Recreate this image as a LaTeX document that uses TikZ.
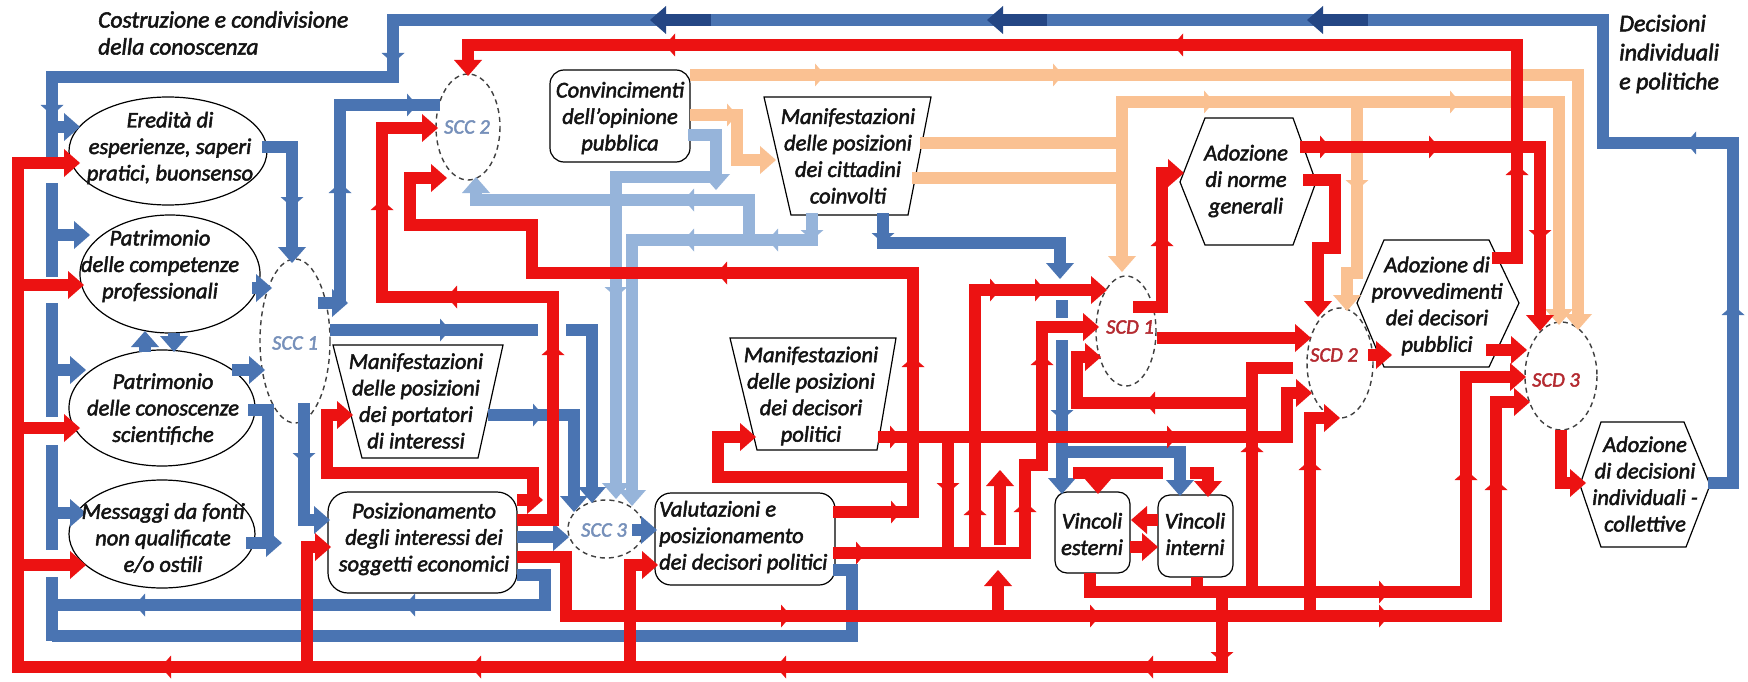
\documentclass[tikz,border=0pt]{standalone}
\usepackage{fontspec}
\setmainfont{Carlito}[ItalicFeatures={FakeBold=2.2}]
\usetikzlibrary{arrows.meta,decorations.markings}
\definecolor{myred}{RGB}{236,18,18}
\definecolor{myblue}{RGB}{74,116,178}
\definecolor{mydblue}{RGB}{36,70,132}
\definecolor{mylb}{RGB}{150,180,218}
\definecolor{mypeach}{RGB}{250,193,146}
\definecolor{scccol}{RGB}{118,144,186}
\definecolor{scdcol}{RGB}{180,42,48}
\definecolor{txtcol}{RGB}{20,20,20}
\tikzset{
  ln/.style={line width=12.5pt,line join=miter,line cap=butt},
  R/.style={ln,color=myred},
  B/.style={ln,color=myblue},
  DB/.style={ln,color=mydblue},
  LB/.style={ln,color=mylb},
  P/.style={ln,color=mypeach},
  tip/.style={-{Triangle[length=16pt,width=28pt,line width=0pt]}},
  midarr/.style={postaction={decorate,decoration={markings,mark=at position #1 with {\arrow{Triangle[length=10pt,width=23pt,line width=0pt]}}}}},
  shp/.style={draw=black,line width=1.2pt,fill=white},
  sc/.style={draw=black!75,line width=1.4pt,dash pattern=on 5pt off 4pt,fill=white},
  txt/.style={align=center,inner sep=0pt,text=txtcol,font=\fontsize{22.5}{26.5}\selectfont\itshape},
  lab/.style={inner sep=0pt,font=\fontsize{20.5}{24}\selectfont\itshape},
}
\begin{document}
\begin{tikzpicture}[x=1pt,y=-1pt]
\useasboundingbox[fill=white] (0,0) rectangle (1748,682);

% ---------- shapes ----------
\draw[shp] (168,151) ellipse [x radius=99, y radius=54];
\draw[shp] (170,274) ellipse [x radius=90, y radius=59];
\draw[shp] (162,408) ellipse [x radius=93, y radius=58];
\draw[shp] (162,534) ellipse [x radius=93, y radius=54];
\draw[sc] (295,341) ellipse [x radius=35, y radius=82];
\draw[sc] (468,127) ellipse [x radius=32, y radius=53];
\draw[sc] (606,529) ellipse [x radius=38, y radius=29];
\draw[sc] (1126,331) ellipse [x radius=30, y radius=55];
\draw[sc] (1340,363) ellipse [x radius=33, y radius=55];
\draw[sc] (1561,376) ellipse [x radius=36, y radius=54];
\draw[shp,rounded corners=14pt] (550,70) rectangle (690,162);
\draw[shp,rounded corners=20pt] (328,492) rectangle (517,593);
\draw[shp,rounded corners=16pt] (655,493) rectangle (835,585);
\draw[shp,rounded corners=12pt] (1055,492) rectangle (1130,573);
\draw[shp,rounded corners=12pt] (1158,495) rectangle (1233,577);
\draw[shp] (764,97) -- (931,97) -- (908,215) -- (791,215) -- cycle;
\draw[shp] (333,345) -- (503,345) -- (478,458) -- (362,458) -- cycle;
\draw[shp] (730,338) -- (896,338) -- (877,450) -- (757,450) -- cycle;
\draw[shp] (1180,182) -- (1205,118) -- (1293,118) -- (1316,182) -- (1293,245) -- (1205,245) -- cycle;
\draw[shp] (1357,303) -- (1384,240) -- (1489,240) -- (1519,303) -- (1489,367) -- (1384,367) -- cycle;
\draw[shp] (1580,485) -- (1601,422) -- (1684,422) -- (1710,485) -- (1686,547) -- (1601,547) -- cycle;

% ---------- peach ----------
\draw[P,tip,midarr=135pt,midarr=373pt] (690,75) -- (1578,75) -- (1578,330);
\draw[P,tip,midarr=47pt] (690,115) -- (737,115) -- (737,160) -- (776,160);
\draw[P] (920,143) -- (1122,143);
\draw[P] (912,178) -- (1122,178);
\draw[P,tip] (1122,102) -- (1122,272);
\draw[P,tip,midarr=98pt,midarr=344pt] (1116,102) -- (1559,102) -- (1559,325);
\draw[P,tip,midarr=88pt] (1357,102) -- (1357,273) -- (1347,273) -- (1347,311);

% ---------- light blue ----------
\draw[LB,tip] (688,135) -- (716,135) -- (716,190);
\draw[LB,tip,midarr=220pt] (716,177) -- (616,177) -- (616,499);
\draw[LB,tip,midarr=105pt] (749,240) -- (749,200) -- (476,200) -- (476,177);
\draw[LB,tip,midarr=27pt,midarr=71pt,midarr=155pt] (812,213) -- (812,240) -- (632,240) -- (632,506);

% ---------- blue ----------
\draw[B,midarr=203pt,midarr=412pt,midarr=1871pt,midarr=2264pt] (1708,483) -- (1733,483) -- (1733,143) -- (1603,143) -- (1603,20) -- (393,20) -- (393,77) -- (52,77) -- (52,157);
\draw[DB,tip] (711,20) -- (650,20);
\draw[DB,tip] (1047,20) -- (987,20);
\draw[DB,tip] (1368,20) -- (1307,20);
\draw[B,tip] (52,127) -- (80,127);
\draw[B] (52,183) -- (52,277);
\draw[B] (52,303) -- (52,417);
\draw[B] (52,445) -- (52,550);
\draw[B] (52,577) -- (52,641);
\draw[B,tip] (52,235) -- (90,235);
\draw[B,tip] (52,370) -- (86,370);
\draw[B,tip] (52,513) -- (86,513);
\draw[B,tip,midarr=90pt] (262,147) -- (292,147) -- (292,263);
\draw[B,tip] (252,288) -- (272,288);
\draw[B,tip] (232,370) -- (265,370);
\draw[B] (248,410) -- (268,410) -- (268,543);
\draw[B,tip] (246,543) -- (282,543);
\draw[B,tip] (145,352) -- (145,331);
\draw[B,tip] (174,333) -- (174,352);
\draw[B,tip] (318,303) -- (348,303);
\draw[B,midarr=120pt,midarr=275pt] (340,303) -- (340,105) -- (440,105);
\draw[B,midarr=120pt] (330,330) -- (538,330);
\draw[B,tip] (566,330) -- (592,330) -- (592,503);
\draw[B,tip,midarr=55pt] (488,415) -- (574,415) -- (574,512);
\draw[B,tip,midarr=60pt] (304,403) -- (304,520) -- (330,520);
\draw[B,tip] (517,537) -- (569,537);
\draw[B,midarr=198pt,midarr=468pt] (517,575) -- (545,575) -- (545,605) -- (52,605);
\draw[B] (833,570) -- (852,570) -- (852,636) -- (52,636);
\draw[B,tip] (632,530) -- (657,530);
\draw[B,tip,midarr=30pt] (883,213) -- (883,243) -- (1060,243) -- (1060,279);
\draw[B] (1062,300) -- (1062,318);
\draw[B,tip,midarr=80pt] (1062,340) -- (1062,494);
\draw[B,tip] (1062,452) -- (1180,452) -- (1180,496);

% ---------- red ----------
\draw[R,tip,midarr=70pt,midarr=154pt,midarr=521pt,midarr=826pt,midarr=1136pt] (1222,592) -- (1222,667) -- (18,667) -- (18,163) -- (80,163);
\draw[R,tip] (18,285) -- (84,285);
\draw[R,tip] (18,428) -- (80,428);
\draw[R,tip] (18,565) -- (86,565);
\draw[R,tip] (307,667) -- (307,547) -- (331,547);
\draw[R,tip] (630,667) -- (630,565) -- (658,565);
\draw[R,tip,midarr=118pt,midarr=582pt,midarr=1090pt] (1492,258) -- (1517,258) -- (1517,45) -- (468,45) -- (468,76);
\draw[R,tip,midarr=30pt,midarr=139pt,midarr=333pt] (1300,147) -- (1540,147) -- (1540,331);
\draw[R,tip] (1303,180) -- (1335,180) -- (1335,248) -- (1318,248) -- (1318,317);
\draw[R,tip,midarr=100pt] (1133,307) -- (1162,307) -- (1162,173) -- (1184,173);
\draw[R,tip] (1157,338) -- (1311,338);
\draw[R,tip] (1368,355) -- (1392,355);
\draw[R,tip] (1486,350) -- (1527,350);
\draw[R,tip] (1561,430) -- (1561,483) -- (1586,483);
\draw[R,tip,midarr=318pt,midarr=517pt] (1090,573) -- (1090,592) -- (1466,592) -- (1466,377) -- (1526,377);
\draw[R] (1197,577) -- (1197,592);
\draw[R,midarr=150pt] (1252,592) -- (1252,368) -- (1293,368);
\draw[R,tip,midarr=107pt] (1252,403) -- (1077,403) -- (1077,357) -- (1101,357);
\draw[R,tip,midarr=333pt,midarr=642pt,midarr=931pt,midarr=1174pt] (517,557) -- (566,557) -- (566,616) -- (1496,616) -- (1496,402) -- (1530,402);
\draw[R,tip,midarr=156pt] (1310,616) -- (1310,418) -- (1340,418);
\draw[R,tip,midarr=22pt,midarr=299pt] (878,437) -- (1287,437) -- (1287,393) -- (1312,393);
\draw[R,tip,midarr=68pt,midarr=235pt,midarr=515pt] (833,512) -- (913,512) -- (913,273) -- (532,273) -- (532,225) -- (410,225) -- (410,178) -- (447,178);
\draw[R,tip,midarr=211pt,midarr=365pt,midarr=527pt] (517,520) -- (553,520) -- (553,297) -- (382,297) -- (382,128) -- (438,128);
\draw[R,tip] (517,500) -- (543,500);
\draw[R,tip] (533,503) -- (533,473) -- (327,473) -- (327,415) -- (353,415);
\draw[R,tip] (913,477) -- (718,477) -- (718,437) -- (756,437);
\draw[R,tip,midarr=33pt,midarr=243pt,midarr=407pt] (833,553) -- (1025,553) -- (1025,465) -- (1042,465) -- (1042,327) -- (1099,327);
\draw[R,tip,midarr=48pt,midarr=288pt,midarr=333pt] (975,553) -- (975,290) -- (1107,290);
\draw[R,midarr=56pt] (948,437) -- (948,555);
\draw[R,tip] (1000,545) -- (1000,470);
\draw[R,tip] (998,616) -- (998,570);
\draw[R] (1073,473) -- (1163,473);
\draw[R,tip] (1098,473) -- (1098,494);
\draw[R,tip] (1190,473) -- (1208,473) -- (1208,497);
\draw[R,tip] (1158,520) -- (1131,520);
\draw[R,tip] (1130,547) -- (1158,547);

% ---------- texts ----------
\node[anchor=west,align=left,inner sep=0pt,text=txtcol,font=\fontsize{23.5}{27}\selectfont\itshape] (tit1) at (98,33) {Costruzione e condivisione\\della conoscenza};
\node[anchor=west,align=left,inner sep=0pt,text=txtcol,font=\fontsize{24}{29}\selectfont\itshape] (tit2) at (1619,54) {Decisioni\\individuali\\e politiche};
\node[txt] (ered) at (170,148) {Eredità di\\esperienze, saperi\\pratici, buonsenso};
\node[txt] (comp) at (160,266) {Patrimonio\\delle competenze\\professionali};
\node[txt] (cono) at (163,409) {Patrimonio\\delle conoscenze\\scientifiche};
\node[txt] (mess) at (163,538) {Messaggi da fonti\\non qualificate\\e/o ostili};
\node[txt] (conv) at (620,118) {Convincimenti\\dell’opinione\\pubblica};
\node[txt] (citt) at (848,156) {Manifestazioni\\delle posizioni\\dei cittadini\\coinvolti};
\node[txt] (port) at (416,401) {Manifestazioni\\delle posizioni\\dei portatori\\di interessi};
\node[txt] (deci) at (811,396) {Manifestazioni\\delle posizioni\\dei decisori\\politici};
\node[txt] (posi) at (424,539) {Posizionamento\\degli interessi dei\\soggetti economici};
\node[txt,align=left,anchor=west] (valu) at (659,537) {Valutazioni e\\posizionamento\\dei decisori politici};
\node[txt] (norm) at (1246,181) {Adozione\\di norme\\generali};
\node[txt] (prov) at (1437,306) {Adozione di\\provvedimenti\\dei decisori\\pubblici};
\node[txt] (dind) at (1645,484) {Adozione\\di decisioni\\individuali -\\collettive};
\node[txt] (vest) at (1092,534) {Vincoli\\esterni};
\node[txt] (vint) at (1195,534) {Vincoli\\interni};
\node[lab,text=scccol] (scc1) at (295,343) {SCC 1};
\node[lab,text=scccol] (scc2) at (467,127) {SCC 2};
\node[lab,text=scccol] (scc3) at (604,530) {SCC 3};
\node[lab,text=scdcol] (scd1) at (1130,327) {SCD 1};
\node[lab,text=scdcol] (scd2) at (1334,355) {SCD 2};
\node[lab,text=scdcol] (scd3) at (1556,380) {SCD 3};
\end{tikzpicture}
\end{document}
